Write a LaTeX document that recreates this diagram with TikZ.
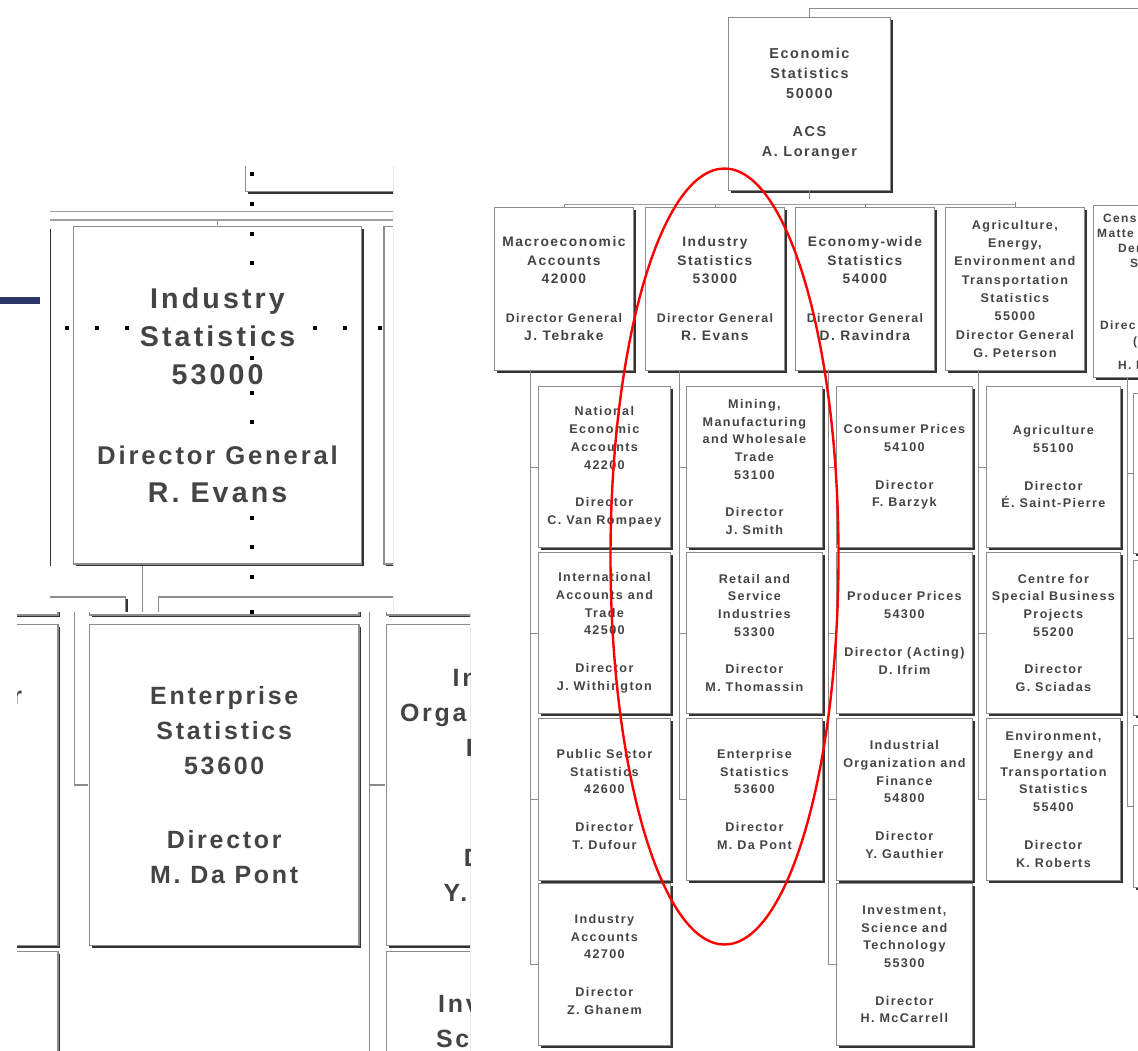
\documentclass[tikz,border=0pt]{standalone}
\usepackage{fontspec}
\setmainfont{Liberation Sans}
\newfontfamily\chfont[LetterSpace=11]{Liberation Sans}
\usetikzlibrary{shadows}
\definecolor{navybar}{RGB}{44,54,102}
\definecolor{txtc}{RGB}{68,68,68}
\newcommand\fA{\fontsize{14.4}{20}\selectfont}
\newcommand\fB{\fontsize{13.8}{18.5}\selectfont}
\newcommand\fBs{\fontsize{12.4}{18.5}\selectfont}
\newcommand\fBa{\fontsize{12.6}{18.3}\selectfont}
\newcommand\fC{\fontsize{12.6}{17.7}\selectfont}
\newcommand\fD{\fontsize{12}{15}\selectfont}
\tikzset{
  lw/.store in=\chlw, lw=0.8pt,
  sh/.store in=\chsh, sh=2.2pt,
  dd/.store in=\chdd, dd=5pt,
  box/.style={draw=black!45, line width=\chlw, fill=white, inner sep=0pt,
    anchor=north west, align=center, text=txtc,
    drop shadow={shadow xshift=\chsh, shadow yshift=-\chsh, fill=black!80, opacity=1}},
  conn/.style={draw=black!45, line width=\chlw},
  busline/.style={draw=black!38, line width=\chlw, double=white, double distance=\chdd},
  frag/.style={anchor=base west, inner sep=0pt, text=txtc, font=\chfont\bfseries\fD},
}
% \bx{name}{x}{y}{w}{h}{size}{text}
\newcommand\bx[7]{\node[box, font=\chfont\bfseries#6, minimum width=#4pt, minimum height=#5pt] (#1) at (#2,-#3) {#7};}
\newcommand\tInd{Industry\\Statistics\\53000\\[20pt]{\fBs Director General}\\R. Evans}
\newcommand\tPS{Public Sector\\Statistics\\42600\\[20pt]Director\\T. Dufour}
\newcommand\tEnt{Enterprise\\Statistics\\53600\\[20pt]Director\\M. Da Pont}
\newcommand\tIOF{Industrial\\Organization and\\Finance\\54800\\[20pt]Director\\Y. Gauthier}
\newcommand\tIST{Investment,\\Science and\\Technology\\55300\\[20pt]Director\\H. McCarrell}
\newcommand\chart{%
\bx{E}{728}{17}{162}{173}{\fA}{Economic\\Statistics\\50000\\[18pt]ACS\\A. Loranger}
\bx{M}{494}{207}{139}{163}{\fB}{Macroeconomic\\Accounts\\42000\\[20pt]{\fBs Director General}\\J. Tebrake}
\bx{I}{645}{207}{139}{163}{\fB}{\tInd}
\bx{W}{795}{207}{139}{163}{\fB}{Economy-wide\\Statistics\\54000\\[20pt]{\fBs Director General}\\D. Ravindra}
\bx{A}{945}{207}{139}{163}{\fBa}{Agriculture,\\Energy,\\Environment and\\Transportation\\Statistics\\55000\\Director General\\G. Peterson}
\bx{C}{1093}{205}{140}{172}{\fD}{}
\node[frag] (cf1) at (1103,-222) {Cens};
\node[frag] (cf2) at (1097,-237) {Matte};
\node[frag] (cf3) at (1118,-252) {Den};
\node[frag] (cf4) at (1130,-267) {S};
\node[frag] (cf5) at (1100,-329) {Direc};
\node[frag] (cf6) at (1133,-345) {(};
\node[frag] (cf7) at (1118,-369) {H. I};
% column 1
\bx{a1}{538}{386}{132}{161}{\fC}{National\\Economic\\Accounts\\42200\\[20pt]Director\\C. Van Rompaey}
\bx{a2}{538}{552}{132}{161}{\fC}{International\\Accounts and\\Trade\\42500\\[20pt]Director\\J. Withington}
\bx{a3}{538}{718}{132}{162}{\fC}{\tPS}
\bx{a4}{538}{883}{132}{162}{\fC}{Industry\\Accounts\\42700\\[20pt]Director\\Z. Ghanem}
% column 2
\bx{b1}{686}{386}{136}{161}{\fC}{Mining,\\Manufacturing\\and Wholesale\\Trade\\53100\\[20pt]Director\\J. Smith}
\bx{b2}{686}{552}{136}{161}{\fC}{Retail and\\Service\\Industries\\53300\\[20pt]Director\\M. Thomassin}
\bx{b3}{686}{718}{136}{162}{\fC}{\tEnt}
% column 3
\bx{c1}{836}{386}{136}{161}{\fC}{Consumer Prices\\54100\\[20pt]Director\\F. Barzyk}
\bx{c2}{836}{552}{136}{161}{\fC}{Producer Prices\\54300\\[20pt]Director (Acting)\\D. Ifrim}
\bx{c3}{836}{718}{136}{162}{\fC}{\tIOF}
\bx{c4}{836}{883}{136}{162}{\fC}{\tIST}
% column 4
\bx{d1}{986}{386}{134}{161}{\fC}{Agriculture\\55100\\[20pt]Director\\É. Saint-Pierre}
\bx{d2}{986}{552}{134}{161}{\fC}{Centre for\\Special Business\\Projects\\55200\\[20pt]Director\\G. Sciadas}
\bx{d3}{986}{718}{134}{162}{\fC}{Environment,\\Energy and\\Transportation\\Statistics\\55400\\[20pt]Director\\K. Roberts}
% column 5 (cut off at the edge)
\bx{e1}{1133}{393}{134}{160}{\fC}{}
\bx{e2}{1133}{560}{134}{155}{\fC}{}
\bx{e3}{1133}{725}{134}{162}{\fC}{}
% connectors
\coordinate (bus) at ([yshift=-11pt]E.south);
\coordinate (topr) at (1150,-8);
\draw[conn] (E.north) |- (topr);
\draw[conn] (E.south) -- (bus);
\foreach \q in {M,I,W,A} \draw[conn] (\q.north |- bus) -- (\q.north);
\draw[busline] (M.north |- bus) -- (A.north |- bus);
\coordinate (v1) at ([xshift=36pt]M.south west);
\coordinate (v2) at ([xshift=34pt]I.south west);
\coordinate (v3) at ([xshift=33pt]W.south west);
\coordinate (v4) at ([xshift=33pt]A.south west);
\coordinate (v5) at ([xshift=34pt]C.south west);
\draw[conn] (v1) |- (a4.west);
\foreach \q in {a1,a2,a3} \draw[conn] (\q.west -| v1) -- (\q.west);
\draw[conn] (v2) |- (b3.west);
\foreach \q in {b1,b2} \draw[conn] (\q.west -| v2) -- (\q.west);
\draw[conn] (v3) |- (c4.west);
\foreach \q in {c1,c2,c3} \draw[conn] (\q.west -| v3) -- (\q.west);
\draw[conn] (v4) |- (d3.west);
\foreach \q in {d1,d2} \draw[conn] (\q.west -| v4) -- (\q.west);
\draw[conn] (v5) |- (e3.west);
\foreach \q in {e1,e2} \draw[conn] (\q.west -| v5) -- (\q.west);
}
% magnified piece round Industry Statistics
\newcommand\uppercrop{%
\bx{E}{728}{17}{162}{173}{\fA}{}
\bx{M}{494}{207}{139}{163}{\fB}{}
\bx{I}{645}{207}{139}{163}{\fB}{\tInd}
\bx{W}{795}{207}{139}{163}{\fB}{}
\bx{a1}{538}{386}{132}{161}{\fC}{}
\bx{b1}{686}{386}{136}{161}{\fC}{}
\coordinate (bus) at ([yshift=-11pt]E.south);
\draw[conn] (E.south) -- (bus);
\foreach \q in {M,I,W} \draw[conn] (\q.north |- bus) -- (\q.north);
\draw[busline] ([xshift=-60pt]M.north |- bus) -- ([xshift=60pt]W.north |- bus);
\coordinate (v2) at ([xshift=34pt]I.south west);
\draw[conn] (v2) |- (b1.west);
}
% magnified piece round Enterprise Statistics
\newcommand\lowercrop{%
\bx{a2}{538}{552}{132}{161}{\fC}{}
\bx{b2}{686}{552}{136}{161}{\fC}{}
\bx{c2}{836}{552}{136}{161}{\fC}{}
\bx{a3}{538}{718}{132}{162}{\fC}{\tPS}
\bx{b3}{686}{718}{136}{162}{\fC}{\tEnt}
\bx{c3}{836}{718}{136}{162}{\fC}{\tIOF}
\bx{a4}{538}{883}{132}{162}{\fC}{}
\bx{c4}{836}{883}{136}{162}{\fC}{\tIST}
\coordinate (v2) at ([xshift=-7pt,yshift=20pt]b2.south west);
\coordinate (v3) at ([xshift=-8pt,yshift=20pt]c2.south west);
\draw[conn] (v2) |- (b3.west);
\draw[conn] (v3) |- (c4.west);
\draw[conn] (c3.west -| v3) -- (c3.west);
}
\begin{document}
\begin{tikzpicture}[x=1pt,y=1pt]
\useasboundingbox (0,0) rectangle (1138,-1050);
\clip (0,0) rectangle (1138,-1050);
\fill[white] (0,0) rectangle (1138,-1050);
% main chart
\begin{scope}[name prefix=R-]
\chart
\end{scope}
\draw[red, line width=2.4pt] (724.5,-556.5) ellipse [x radius=114, y radius=388];
% upper magnified crop
\begin{scope}
\clip (50,-166) rectangle (393,-612);
\begin{scope}[shift={(-1263.15,203.5)}, scale=2.07, transform shape, name prefix=U-, lw=1.6pt, dd=7pt, sh=2.2pt]
\uppercrop
\end{scope}
\end{scope}
% lower magnified crop
\begin{scope}
\clip (17,-612) rectangle (470,-1050);
\begin{scope}[shift={(-1270.3,798.6)}, scale=1.98, transform shape, name prefix=L-, lw=1.6pt, dd=7pt, sh=2.2pt]
\lowercrop
\end{scope}
\end{scope}
% guide dots
\foreach \y in {174,204,234,263,358,393,422,518,547,577,612}
  \fill[black] (250.25,-\y-1.75) rectangle ++(3.5,3.5);
\foreach \x in {67,97,127,315,345,380}
  \fill[black] (\x-1.75,-329.75) rectangle ++(3.5,3.5);
% blue bar
\fill[navybar] (0,-297) rectangle (40,-304);
\end{tikzpicture}
\end{document}
